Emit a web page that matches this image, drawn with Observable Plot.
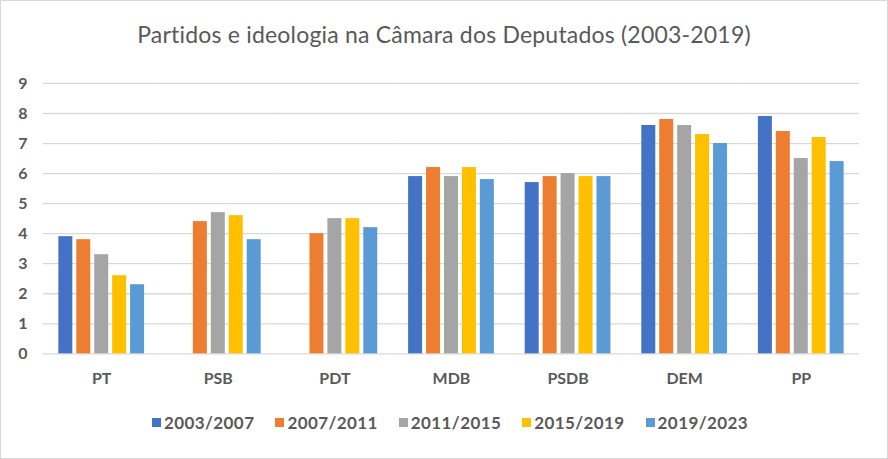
<!DOCTYPE html>
<html>
<head>
<meta charset="utf-8">
<script src="https://cdn.jsdelivr.net/npm/d3@7"></script>
<script src="https://cdn.jsdelivr.net/npm/@observablehq/plot@0.6"></script>
<style>
  html, body { margin: 0; padding: 0; background: #fff; }
  #chart {
    position: relative; width: 888px; height: 459px; box-sizing: border-box;
    border: 1px solid #d9d9d9; background: #fff; overflow: hidden;
    font-family: Lato, "Open Sans", sans-serif; color: #595959;
  }
  #title {
    height: 61px; box-sizing: border-box; padding-top: 19px; text-align: center;
    font-size: 23px; line-height: 28px; font-weight: normal; color: #595959;
    letter-spacing: 0.2px;
  }
  #plot svg { display: block; }
  #legend {
    height: 61px; display: flex; justify-content: center; align-items: flex-start;
    gap: 21px; padding-top: 15px; box-sizing: border-box; padding-left: 12px;
    font-size: 17px; font-weight: bold; color: #595959; letter-spacing: 0.4px;
  }
  .item { display: flex; align-items: center; gap: 3px; }
  .sw { width: 9px; height: 9px; display: inline-block; }
</style>
</head>
<body>
<div id="chart">
  <div id="title">Partidos e ideologia na Câmara dos Deputados (2003-2019)</div>
  <div id="plot"></div>
  <div id="legend"></div>
</div>
<script>
const categories = ["PT", "PSB", "PDT", "MDB", "PSDB", "DEM", "PP"];
const seriesNames = ["2003/2007", "2007/2011", "2011/2015", "2015/2019", "2019/2023"];
const colors = ["#4472C4", "#ED7D31", "#A5A5A5", "#FFC000", "#5B9BD5"];
const s2003 = [3.9, null, null, 5.9, 5.7, 7.6, 7.9];
const s2007 = [3.8, 4.4, 4.0, 6.2, 5.9, 7.8, 7.4];
const s2011 = [3.3, 4.7, 4.5, 5.9, 6.0, 7.6, 6.5];
const s2015 = [2.6, 4.6, 4.5, 6.2, 5.9, 7.3, 7.2];
const s2019 = [2.3, 3.8, 4.2, 5.8, 5.9, 7.0, 6.4];
const yTicks = [0, 1, 2, 3, 4, 5, 6, 7, 8, 9];

const seriesValues = [s2003, s2007, s2011, s2015, s2019];
const rows = [];
categories.forEach((c, i) => {
  seriesNames.forEach((s, j) => {
    const v = seriesValues[j][i];
    if (v != null) rows.push({party: c, period: s, value: v});
  });
});

const chart = Plot.plot({
  width: 888,
  height: 336,
  marginTop: 21,
  marginBottom: 44,
  marginLeft: 42,
  marginRight: 28,
  style: {fontFamily: "Lato, 'Open Sans', sans-serif", fontSize: "16px", fontWeight: "bold", color: "#595959", background: "#fff"},
  fx: {domain: categories, padding: 0, round: false, tickSize: 0, tickPadding: 19, label: null, axis: "bottom"},
  x: {domain: seriesNames, paddingInner: 0.22, paddingOuter: 0.86, round: false, axis: null},
  y: {domain: [0, 9], ticks: yTicks, tickSize: 0, tickPadding: 16, label: null, tickFormat: d3.format("d")},
  color: {domain: seriesNames, range: colors},
  marks: [
    Plot.ruleY(yTicks, {stroke: "#d9d9d9", strokeWidth: 1.3}),
    Plot.barY(rows, {fx: "party", x: "period", y: "value", fill: "period"})
  ]
});
document.getElementById("plot").appendChild(chart);

const legend = document.getElementById("legend");
seriesNames.forEach((s, i) => {
  const it = document.createElement("div");
  it.className = "item";
  const sw = document.createElement("span");
  sw.className = "sw";
  sw.style.background = colors[i];
  const t = document.createElement("span");
  t.textContent = s;
  it.appendChild(sw); it.appendChild(t);
  legend.appendChild(it);
});
</script>
</body>
</html>
